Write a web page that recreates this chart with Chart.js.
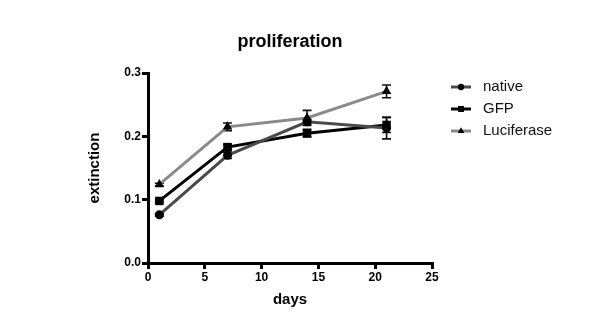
<!DOCTYPE html>
<html>
<head>
<meta charset="utf-8">
<script src="https://cdn.jsdelivr.net/npm/chart.js@4"></script>
<style>
  html, body { margin: 0; padding: 0; background: #fff; }
  #wrap { width: 600px; height: 324px; }
</style>
</head>
<body>
<div id="wrap"><canvas id="prolifChart" width="600" height="324"></canvas></div>
<script>
// measurement days
const days = [1, 7, 14, 21];

// mean extinction per group
const nativeValues = [0.076, 0.170, 0.223, 0.213];
const gfpValues = [0.098, 0.183, 0.205, 0.218];
const luciferaseValues = [0.124, 0.215, 0.229, 0.271];

// error (+/-) per group
const nativeErr = [0.002, 0.005, 0.004, 0.017];
const gfpErr = [0.002, 0.004, 0.006, 0.012];
const luciferaseErr = [0.002, 0.006, 0.012, 0.010];

const yTicks = [0, 0.1, 0.2, 0.3];
const xTicks = [0, 5, 10, 15, 20, 25];

function toPoints(vals, errs) {
    return days.map((d, i) => ({ x: d, y: vals[i], err: errs[i] }));
}

const FONT = "'Liberation Sans', Arial, sans-serif";

// error bars with caps, drawn under the markers
const errorBars = {
    id: 'errorBars',
    beforeDatasetsDraw(chart) {
        const ctx = chart.ctx;
        const yScale = chart.scales.y;
        ctx.save();
        ctx.strokeStyle = '#111';
        ctx.lineWidth = 1.6;
        chart.data.datasets.forEach((ds, di) => {
            const meta = chart.getDatasetMeta(di);
            meta.data.forEach((pt, i) => {
                const e = ds.data[i].err;
                const yTop = yScale.getPixelForValue(ds.data[i].y + e);
                const yBot = yScale.getPixelForValue(ds.data[i].y - e);
                ctx.beginPath();
                ctx.moveTo(pt.x, yTop); ctx.lineTo(pt.x, yBot);
                ctx.moveTo(pt.x - 4.5, yTop); ctx.lineTo(pt.x + 4.5, yTop);
                ctx.moveTo(pt.x - 4.5, yBot); ctx.lineTo(pt.x + 4.5, yBot);
                ctx.stroke();
            });
        });
        ctx.restore();
    }
};

// title over the plot area and a line+marker legend on the right
const decorations = {
    id: 'decorations',
    afterDraw(chart) {
        const ctx = chart.ctx;
        const area = chart.chartArea;
        ctx.save();
        ctx.fillStyle = '#000';
        ctx.font = 'bold 18px ' + FONT;
        ctx.textAlign = 'center';
        ctx.textBaseline = 'middle';
        ctx.fillText('proliferation', (area.left + area.right) / 2, 42);

        ctx.font = '15px ' + FONT;
        ctx.textAlign = 'left';
        chart.data.datasets.forEach((ds, i) => {
            const y = 87 + i * 22;
            ctx.strokeStyle = ds.borderColor;
            ctx.lineWidth = 3;
            ctx.beginPath();
            ctx.moveTo(451, y); ctx.lineTo(471, y);
            ctx.stroke();
            ctx.fillStyle = '#000';
            ctx.strokeStyle = '#000';
            Chart.helpers.drawPoint(ctx, {
                pointStyle: ds.pointStyle,
                radius: ds.pointRadius * 0.7,
                borderWidth: 0
            }, 461, y);
            ctx.fillStyle = '#111';
            ctx.fillText(ds.label, 483, y);
        });
        ctx.restore();
    }
};

function series(label, vals, errs, color, style, radius) {
    return {
        label: label,
        data: toPoints(vals, errs),
        borderColor: color,
        backgroundColor: '#000',
        pointBackgroundColor: '#000',
        pointBorderColor: '#000',
        pointBorderWidth: 0,
        borderWidth: 3,
        pointStyle: style,
        pointRadius: radius,
        pointHoverRadius: radius,
        tension: 0
    };
}

new Chart(document.getElementById('prolifChart'), {
    type: 'line',
    data: {
        datasets: [
            series('native', nativeValues, nativeErr, '#4a4a4a', 'circle', 4.5),
            series('GFP', gfpValues, gfpErr, '#000000', 'rect', 6),
            series('Luciferase', luciferaseValues, luciferaseErr, '#8a8a8a', 'triangle', 5.5)
        ]
    },
    options: {
        responsive: false,
        animation: false,
        layout: { padding: { top: 73, right: 168, left: 0, bottom: 0 } },
        plugins: {
            legend: { display: false },
            title: { display: false },
            tooltip: { enabled: false }
        },
        scales: {
            x: {
                type: 'linear',
                min: 0,
                max: 25,
                afterFit: s => { s.height = 61; },
                afterBuildTicks: s => { s.ticks = xTicks.map(v => ({ value: v })); },
                border: { display: true, color: '#000', width: 3 },
                grid: { drawOnChartArea: false, drawTicks: true, tickLength: 6, color: '#000', lineWidth: 3 },
                ticks: { color: '#000', padding: 1, font: { family: FONT, size: 12, weight: 'bold' } },
                title: {
                    display: true, text: 'days', color: '#000',
                    font: { family: FONT, size: 15, weight: 'bold' },
                    padding: { top: 0, bottom: 15 }
                }
            },
            y: {
                min: 0,
                max: 0.3,
                afterFit: s => { s.width = 148; },
                afterBuildTicks: s => { s.ticks = yTicks.map(v => ({ value: v })); },
                border: { display: true, color: '#000', width: 3 },
                grid: { drawOnChartArea: false, drawTicks: true, tickLength: 6, color: '#000', lineWidth: 3 },
                ticks: {
                    color: '#000', padding: 1,
                    font: { family: FONT, size: 12, weight: 'bold' },
                    callback: v => v.toFixed(1)
                },
                title: {
                    display: true, text: 'extinction', color: '#000',
                    font: { family: FONT, size: 15, weight: 'bold' },
                    padding: { top: 86, bottom: 0 }
                }
            }
        }
    },
    plugins: [errorBars, decorations]
});
</script>
</body>
</html>
